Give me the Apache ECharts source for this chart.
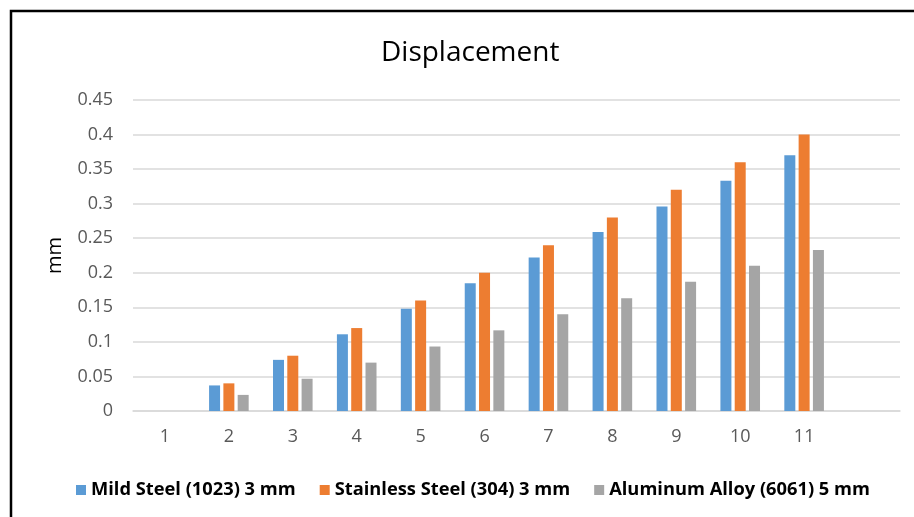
<!DOCTYPE html>
<html><head><meta charset="utf-8">
<script src="https://cdn.jsdelivr.net/npm/echarts@6/dist/echarts.min.js"></script>
<style>html,body{margin:0;padding:0;background:#fff}#c{width:914px;height:517px}</style>
</head><body><div id="c"></div>
<script>
const categories = ['1','2','3','4','5','6','7','8','9','10','11',''];
const mildSteel = [0, 0.037, 0.074, 0.111, 0.148, 0.185, 0.222, 0.259, 0.296, 0.333, 0.37, null];
const stainless = [0, 0.04, 0.08, 0.12, 0.16, 0.2, 0.24, 0.28, 0.32, 0.36, 0.4, null];
const aluminum = [0, 0.0233, 0.0467, 0.07, 0.0933, 0.1167, 0.14, 0.163, 0.187, 0.21, 0.233, null];
const seriesNames = ['Mild Steel (1023) 3 mm', 'Stainless Steel (304) 3 mm', 'Aluminum Alloy (6061) 5 mm'];
const colors = ['#5B9BD5', '#ED7D31', '#A5A5A5'];
const font = '"Open Sans", "Noto Sans", sans-serif';

const chart = echarts.init(document.getElementById('c'), null, {renderer: 'canvas'});
const mk = (name, data, color) => ({
  name, type: 'bar', data, barWidth: 11, barGap: '30%',
  itemStyle: {color}, emphasis: {disabled: true}
});
chart.setOption({
  animation: false,
  title: {text: 'Displacement', left: 376, top: 34,
    textStyle: {fontFamily: font, fontWeight: 'normal', fontSize: 28, color: '#000'}},
  legend: {bottom: 13, left: 71, itemWidth: 10, itemHeight: 10, itemGap: 24,
    icon: 'rect',
    textStyle: {fontFamily: font, fontWeight: 'bold', fontSize: 18.3, color: '#000'},
    data: seriesNames},
  grid: {left: 133, right: 14, top: 100, bottom: 106, containLabel: false},
  xAxis: {type: 'category', data: categories,
    axisLine: {lineStyle: {color: '#D9D9D9', width: 1.5}},
    axisTick: {show: false},
    axisLabel: {fontFamily: font, fontSize: 18, color: '#595959', margin: 17}},
  yAxis: {type: 'value', min: 0, max: 0.45, interval: 0.05,
    name: 'mm', nameLocation: 'middle', nameGap: 68, nameRotate: 90,
    nameTextStyle: {fontFamily: font, fontSize: 20, color: '#000'},
    axisLine: {show: false}, axisTick: {show: false},
    axisLabel: {fontFamily: font, fontSize: 18, color: '#595959', margin: 20,
      formatter: v => String(parseFloat(v.toFixed(2)))},
    splitLine: {lineStyle: {color: '#D9D9D9', width: 1.5}}},
  series: [mk(seriesNames[0], mildSteel, colors[0]), mk(seriesNames[1], stainless, colors[1]), mk(seriesNames[2], aluminum, colors[2])],
  graphic: [{type: 'rect', shape: {x: 11, y: 11, width: 960, height: 560},
    style: {fill: null, stroke: '#000', lineWidth: 2.5}, silent: true}]
});
</script></body></html>
